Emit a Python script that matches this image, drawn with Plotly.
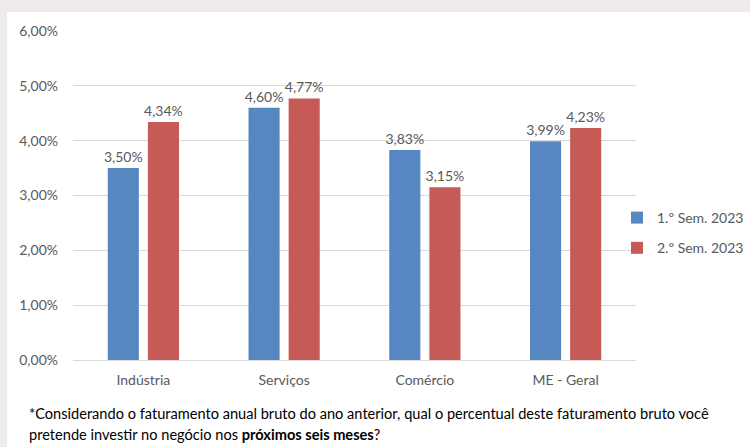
import plotly.graph_objects as go

categories = ["Indústria", "Serviços", "Comércio", "ME - Geral"]
sem1_values = [3.50, 4.60, 3.83, 3.99]
sem2_values = [4.34, 4.77, 3.15, 4.23]
series_names = ["1.º Sem. 2023", "2.º Sem. 2023"]
y_tick_values = [0, 1, 2, 3, 4, 5, 6]
y_tick_labels = ["0,00%", "1,00%", "2,00%", "3,00%", "4,00%", "5,00%", "6,00%"]
caption_lines = [
    "*Considerando o faturamento anual bruto do ano anterior, qual o percentual deste faturamento bruto você",
    "pretende investir no negócio nos <b>próximos seis meses</b>?",
]

W, H = 750, 447
ML, MR, MT, MB = 73, 114, 31, 87
PW, PH = W - ML - MR, H - MT - MB

FONT = "Lato, 'Open Sans', sans-serif"
GRAY = "#595959"
colors = ["#5687C3", "#C55A57"]

def fmt(v):
    return ("%.2f" % v).replace(".", ",") + "%"

fig = go.Figure()
for name, vals, col in zip(series_names, [sem1_values, sem2_values], colors):
    fig.add_trace(go.Bar(
        x=categories, y=vals, name=name, marker=dict(color=col, line=dict(width=0)),
        text=[fmt(v) for v in vals], textposition="outside", cliponaxis=False,
        constraintext="none",
        textfont=dict(family=FONT, size=14, color=GRAY), legendgroup=name,
    ))

def px_x(p):
    return (p - ML) / PW

def px_y(p):
    return (H - MB - p) / PH

fig.add_shape(type="rect", xref="paper", yref="paper",
              x0=px_x(7), x1=px_x(W + 5), y0=px_y(12), y1=px_y(H + 5),
              fillcolor="white", line=dict(width=0), layer="below")

for i, line in enumerate(caption_lines):
    fig.add_annotation(text=line, xref="paper", yref="paper", x=px_x(27), y=px_y(413 + 21 * i),
                       xanchor="left", yanchor="middle", showarrow=False,
                       font=dict(family=FONT, size=14.6, color="black"))

fig.update_layout(
    width=W, height=H, margin=dict(l=ML, r=MR, t=MT, b=MB, autoexpand=False),
    paper_bgcolor="#EFEBEC", plot_bgcolor="white",
    barmode="group", bargap=0.43, bargroupgap=0.225,
    font=dict(family=FONT, size=13, color=GRAY),
    showlegend=True,
    legend=dict(x=px_x(617), y=px_y(202), xanchor="left", yanchor="top",
                font=dict(family=FONT, size=14, color=GRAY), tracegroupgap=9,
                itemwidth=30, bgcolor="rgba(0,0,0,0)"),
    xaxis=dict(showgrid=False, showline=False, ticks="", tickfont=dict(size=14, color=GRAY),
               ticklabelstandoff=10, automargin=False),
    yaxis=dict(range=[0, 6], tickvals=y_tick_values, ticktext=y_tick_labels,
               showgrid=True, gridcolor="#D9D9D9", gridwidth=1, zeroline=True,
               zerolinecolor="#D9D9D9", zerolinewidth=1, showline=False, ticks="",
               tickfont=dict(size=14, color=GRAY), ticklabelstandoff=14, automargin=False),
)

fig.write_html("out.html")
